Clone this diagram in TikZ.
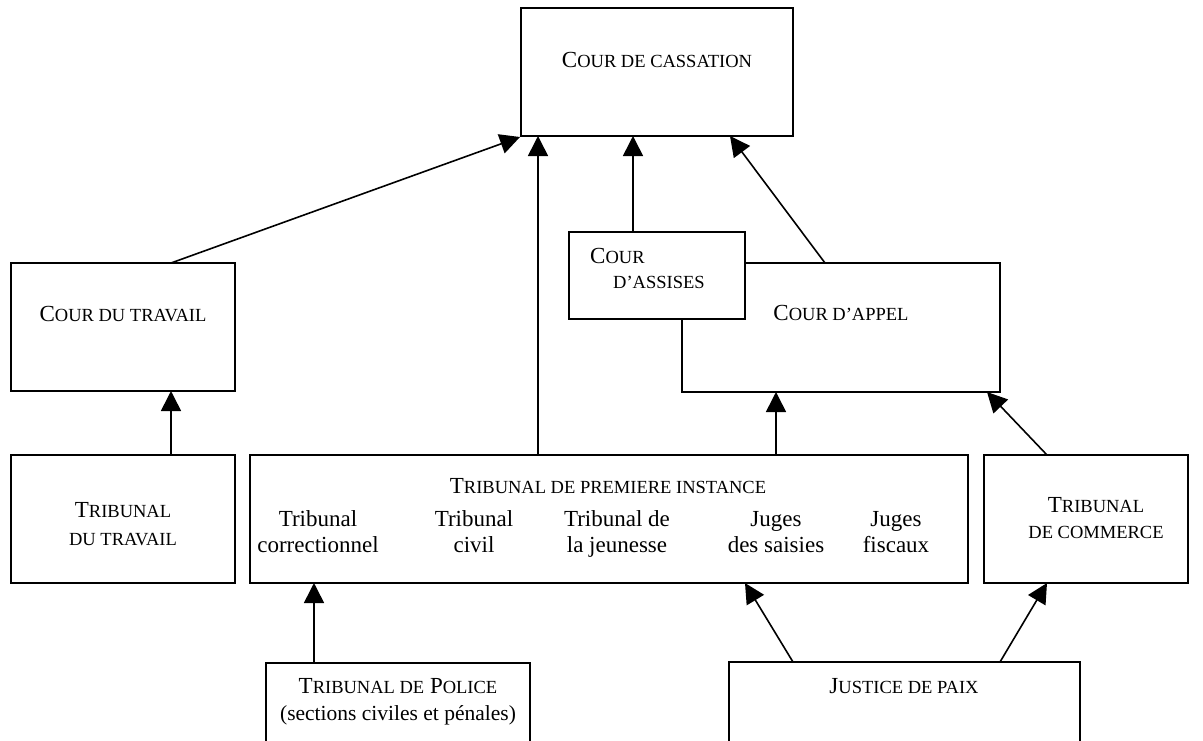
\documentclass[tikz,border=0pt]{standalone}
\usepackage{fontspec}
\setmainfont{Liberation Serif}
\usetikzlibrary{arrows.meta}
\newcommand\smc[1]{{\fontsize{18.5pt}{23pt}\selectfont\MakeUppercase{#1}}}
\tikzset{
  box/.style={draw=black, line width=1.6pt, fill=white, inner sep=0pt, outer sep=0pt, anchor=north west},
  txt/.style={font=\fontsize{23pt}{26pt}\selectfont, inner sep=0pt, anchor=base},
  arr/.style={line width=1.6pt, -{Triangle[length=20pt,width=20pt]}}
}
\begin{document}
\begin{tikzpicture}[x=1pt,y=-1pt]
\clip (0,0) rectangle (1203,740);
\fill[white] (0,0) rectangle (1203,740);
% boxes
\node[box, minimum width=272pt, minimum height=128pt] (cass) at (521,8) {};
\node[box, minimum width=224pt, minimum height=128pt] (ctrav) at (11,263) {};
\node[box, minimum width=318pt, minimum height=129pt] (appel) at (682,263) {};
\node[box, minimum width=176pt, minimum height=87pt] (assises) at (569,232) {};
\node[box, minimum width=224pt, minimum height=128pt] (trav) at (11,455) {};
\node[box, minimum width=718pt, minimum height=128pt] (tpi) at (250,455) {};
\node[box, minimum width=204pt, minimum height=128pt] (comm) at (984,455) {};
\node[box, minimum width=264pt, minimum height=100pt] (police) at (266,663) {};
\node[box, minimum width=351pt, minimum height=100pt] (paix) at (729,662) {};
% texts
\node[txt] (tcass) at (657,67) {C\smc{our de cassation}};
\node[txt] (tctrav) at (123,321) {C\smc{our du travail}};
\node[txt, anchor=base west] (tass1) at (590,263) {C\smc{our}};
\node[txt, anchor=base west] (tass2) at (613,288) {\smc{d’assises}};
\node[txt] (tappel) at (841,320) {C\smc{our d’appel}};
\node[txt] (ttrav1) at (123,517) {T\smc{ribunal}};
\node[txt] (ttrav2) at (123,545) {\smc{du travail}};
\node[txt] (ttpi) at (608,493) {T\smc{ribunal de premiere instance}};
\node[txt] (tc1a) at (318,526) {Tribunal};
\node[txt] (tc1b) at (318,552) {correctionnel};
\node[txt] (tc2a) at (474,526) {Tribunal};
\node[txt] (tc2b) at (474,552) {civil};
\node[txt] (tc3a) at (617,526) {Tribunal de};
\node[txt] (tc3b) at (617,552) {la jeunesse};
\node[txt] (tc4a) at (776,526) {Juges};
\node[txt] (tc4b) at (776,552) {des saisies};
\node[txt] (tc5a) at (896,526) {Juges};
\node[txt] (tc5b) at (896,552) {fiscaux};
\node[txt] (tcomm1) at (1096,512) {T\smc{ribunal}};
\node[txt] (tcomm2) at (1096,538) {\smc{de commerce}};
\node[txt] (tpol1) at (398,693) {T\smc{ribunal de} P\smc{olice}};
\node[txt, font=\fontsize{21.5pt}{26pt}\selectfont] (tpol2) at (398,720) {(sections civiles et pénales)};
\node[txt] (tpaix) at (904,693) {J\smc{ustice de paix}};
% connectors
\draw[arr] ([xshift=160pt]trav.north west) -- ([xshift=160pt]ctrav.south west);
\draw[arr] ([xshift=160pt]ctrav.north west) -- ([xshift=-1pt,yshift=-1pt]cass.south west);
\draw[arr] ([xshift=288pt]tpi.north west) -- ([xshift=17pt]cass.south west);
\draw[arr] ([xshift=64pt]assises.north west) -- ([xshift=112pt]cass.south west);
\draw[arr] ([xshift=143pt]appel.north west) -- ([xshift=209pt]cass.south west);
\draw[arr] ([xshift=526pt]tpi.north west) -- ([xshift=94pt]appel.south west);
\draw[arr] ([xshift=63pt]comm.north west) -- ([xshift=305pt]appel.south west);
\draw[arr] ([xshift=48pt]police.north west) -- ([xshift=64pt]tpi.south west);
\draw[arr] ([xshift=64pt]paix.north west) -- ([xshift=495pt]tpi.south west);
\draw[arr] ([xshift=271pt]paix.north west) -- ([xshift=63pt]comm.south west);
\end{tikzpicture}
\end{document}
